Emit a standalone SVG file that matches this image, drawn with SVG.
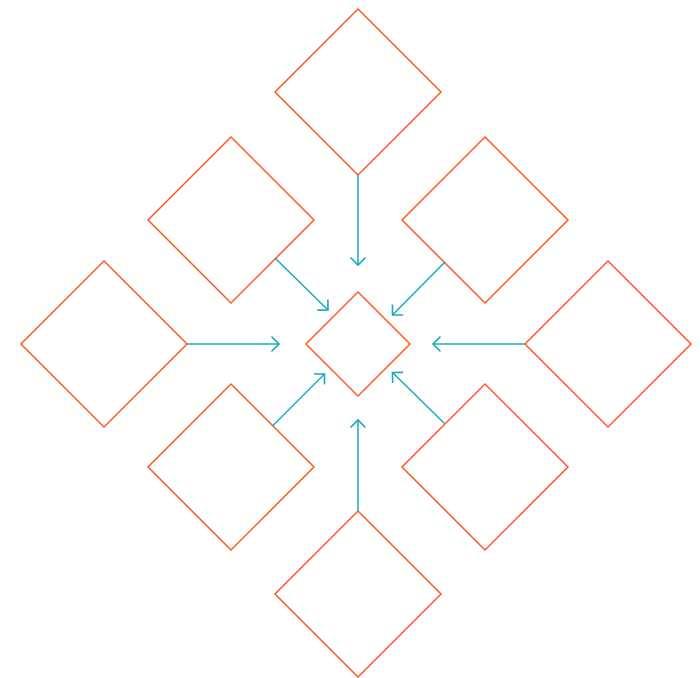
<svg xmlns="http://www.w3.org/2000/svg" width="700" height="678" viewBox="0 0 700 678">
<style>
.node{fill:#ffffff;stroke:#ff5a1f;stroke-width:1.5}
.edge{fill:none;stroke:#1aa9bc;stroke-width:1.5;marker-end:url(#arr)}
</style>
<defs>
<marker id="arr" markerUnits="userSpaceOnUse" markerWidth="20" markerHeight="20" viewBox="-10 -10 20 20" refX="0" refY="0" orient="auto" overflow="visible">
<path d="M-7.5,-7.5 L0,0 L-7.5,7.5" fill="none" stroke="#1aa9bc" stroke-width="1.6"/>
</marker>
</defs>
<rect width="700" height="678" fill="#ffffff"/>
<g id="n-top"><polygon class="node" points="358,9 441,92 358,175 275,92"/></g>
<g id="n-ul"><polygon class="node" points="231,137 314,220 231,303 148,220"/></g>
<g id="n-ur"><polygon class="node" points="485,137 568,220 485,303 402,220"/></g>
<g id="n-left"><polygon class="node" points="104,261 187,344 104,427 21,344"/></g>
<g id="n-right"><polygon class="node" points="608,261 691,344 608,427 525,344"/></g>
<g id="n-ll"><polygon class="node" points="231,384 314,467 231,550 148,467"/></g>
<g id="n-lr"><polygon class="node" points="485,384 568,467 485,550 402,467"/></g>
<g id="n-bottom"><polygon class="node" points="358,511 441,594 358,677 275,594"/></g>
<g id="n-center"><polygon class="node" points="358,292 410,344 358,396 306,344"/></g>
<g id="edges">
<line class="edge" x1="358" y1="175" x2="358" y2="265"/>
<line class="edge" x1="187" y1="344" x2="279" y2="344"/>
<line class="edge" x1="525" y1="344" x2="433" y2="344"/>
<line class="edge" x1="358" y1="511" x2="358" y2="420"/>
<line class="edge" x1="275" y1="258" x2="328" y2="310"/>
<line class="edge" x1="445" y1="262" x2="392.5" y2="315"/>
<line class="edge" x1="272.5" y1="426" x2="324.5" y2="374"/>
<line class="edge" x1="444.5" y1="423.5" x2="392.5" y2="372.5"/>
</g>
</svg>
